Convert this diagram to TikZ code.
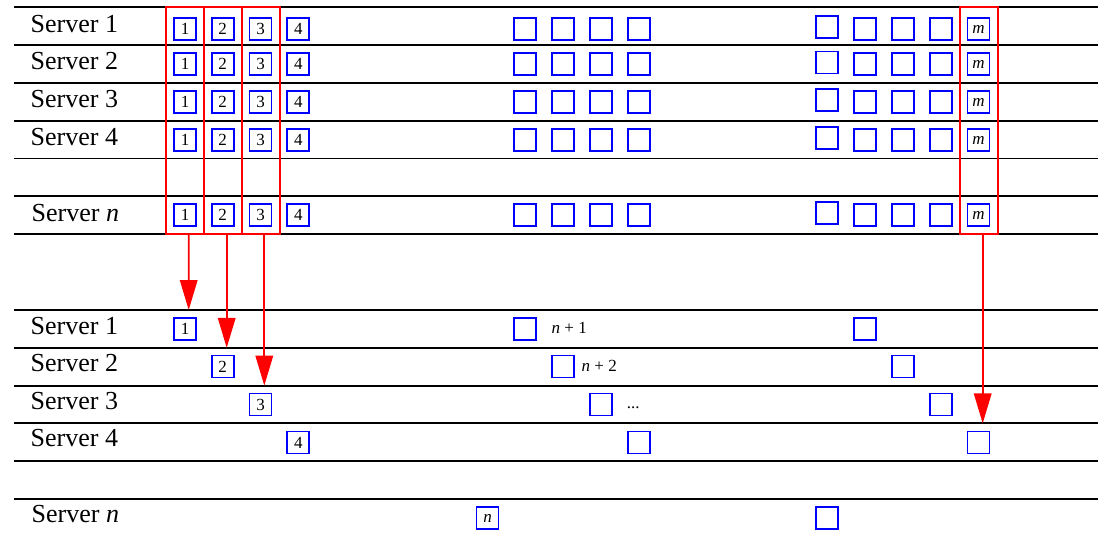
\documentclass[tikz,border=0pt]{standalone}
\usepackage{fontspec}
\setmainfont{Liberation Serif}
\usetikzlibrary{arrows.meta}
\begin{document}
\begin{tikzpicture}[x=1pt,y=-1pt,
  hline/.style={line width=1.9pt},
  sbox/.style={draw=blue, line width=1.8pt, minimum size=22pt, inner sep=0pt, font=\fontsize{17}{17}\selectfont},
  lbl/.style={anchor=base west, inner sep=0pt, font=\fontsize{26}{26}\selectfont},
  redcol/.style={draw=red, line width=1.9pt, minimum width=38.2pt, minimum height=226.8pt, inner sep=0pt},
  redarr/.style={draw=red, line width=1.9pt, -{Triangle[length=30pt,width=17.5pt]}},
  small/.style={anchor=base west, inner sep=0pt, font=\fontsize{17}{17}\selectfont}
]
\useasboundingbox (0,0) rectangle (1098,535);
% horizontal lines
\foreach \y in {7.3,45.1,82.9,120.7,158.5,196.3,234.1}
  \draw[hline] (14,\y) -- (1098,\y);
\foreach \y in {310,347.8,385.6,423.4,461.2,499}
  \draw[hline] (14,\y) -- (1098,\y);

% top rows
\foreach \r/\t/\lx/\bl/\by in {1/{1}/30.5/32.3/29, 2/{2}/30.5/70/64.3, 3/{3}/30.5/107.5/102, 4/{4}/30.5/145.5/140, n/{\textit{n}}/31.5/221/215} {
  \node[lbl] (TL\r) at (\lx,\bl) {Server \t};
  \node[sbox] (A\r1) at (185,\by) {1};
  \node[sbox] (A\r2) at (222.7,\by) {2};
  \node[sbox] (A\r3) at (260.5,\by) {3};
  \node[sbox] (A\r4) at (298.3,\by) {4};
  \node[sbox] (B\r1) at (525.3,\by) {};
  \node[sbox] (B\r2) at (563.1,\by) {};
  \node[sbox] (B\r3) at (600.9,\by) {};
  \node[sbox] (B\r4) at (638.7,\by) {};
  \node[sbox] (C\r1) at (827.3,\by-1.7) {};
  \node[sbox] (C\r2) at (865.1,\by) {};
  \node[sbox] (C\r3) at (902.9,\by) {};
  \node[sbox] (C\r4) at (940.7,\by) {};
  \node[sbox] (C\r5) at (978.5,\by) {\textit{m}};
}

% red column frames
\node[redcol] (R1) at (184.85,120.7) {};
\node[redcol] (R2) at (223,120.7) {};
\node[redcol] (R3) at (261,120.7) {};
\node[redcol] (R4) at (979,120.7) {};

% bottom rows
\node[lbl] (BL1) at (30.5,334.5) {Server 1};
\node[lbl] (BL2) at (30.5,371.5) {Server 2};
\node[lbl] (BL3) at (30.5,409) {Server 3};
\node[lbl] (BL4) at (30.5,446.7) {Server 4};
\node[lbl] (BLn) at (31.5,522.5) {Server \textit{n}};

\node[sbox] (D1) at (185,329) {1};
\node[sbox] (E1) at (525.3,329) {};
\node[small] (N1) at (551.5,333.3) {\textit{n} + 1};
\node[sbox] (F1) at (865.1,329) {};

\node[sbox] (D2) at (222.7,366.5) {2};
\node[sbox] (E2) at (563.1,366.5) {};
\node[small] (N2) at (581.5,371) {\textit{n} + 2};
\node[sbox] (F2) at (902.9,366.5) {};

\node[sbox] (D3) at (260.5,404.5) {3};
\node[sbox] (E3) at (600.9,404.5) {};
\node[small] (N3) at (626.7,408.3) {...};
\node[sbox] (F3) at (940.7,404.5) {};

\node[sbox] (D4) at (298.3,442.5) {4};
\node[sbox] (E4) at (638.7,442.5) {};
\node[sbox] (F4) at (978.5,442.5) {};

\node[sbox] (Dn) at (487.5,518) {\textit{n}};
\node[sbox] (Fn) at (827.3,518) {};

% arrow targets
\coordinate (T1) at (188.7,310);
\coordinate (T2) at (226.7,347.8);
\coordinate (T3) at (264.3,385.6);
\coordinate (T4) at (982.7,423.4);

\draw[redarr] ([xshift=3.85pt]R1.south) -- (T1);
\draw[redarr] ([xshift=3.7pt]R2.south) -- (T2);
\draw[redarr] ([xshift=3.3pt]R3.south) -- (T3);
\draw[redarr] ([xshift=3.7pt]R4.south) -- (T4);
\end{tikzpicture}
\end{document}
